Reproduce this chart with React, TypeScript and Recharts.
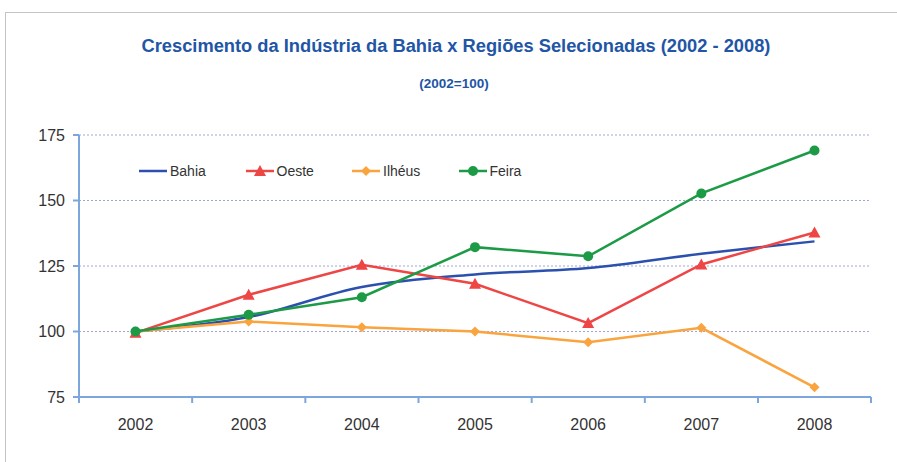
import { LineChart, Line, XAxis, YAxis, CartesianGrid } from 'recharts';

const years = ['2002', '2003', '2004', '2005', '2006', '2007', '2008'];
const bahia = [100, 105.5, 117, 121.8, 124.2, 129.7, 134.4];
const oeste = [99.5, 114, 125.5, 118.2, 103.2, 125.6, 137.8];
const ilheus = [100, 103.8, 101.6, 100, 95.9, 101.4, 78.7];
const feira = [100, 106.4, 113.1, 132.2, 128.7, 152.7, 169.1];
const yTicks = [75, 100, 125, 150, 175];

const SERIES = [
  { key: 'bahia', label: 'Bahia', color: '#2B50AE', marker: 'none' },
  { key: 'oeste', label: 'Oeste', color: '#EE4545', marker: 'triangle' },
  { key: 'ilheus', label: 'Ilhéus', color: '#F9A43E', marker: 'diamond' },
  { key: 'feira', label: 'Feira', color: '#1C9A46', marker: 'circle' },
];

const data = years.map((year, i) => ({
  year,
  bahia: bahia[i],
  oeste: oeste[i],
  ilheus: ilheus[i],
  feira: feira[i],
}));

const AXIS_COLOR = '#7DA6DE';
const HALF_BAND = 56.5;
const font = 'Liberation Sans, Arial';

function Marker({ kind, cx, cy, color }: { kind: string; cx: number; cy: number; color: string }) {
  if (kind === 'triangle') {
    return <polygon points={`${cx},${cy - 6} ${cx + 6},${cy + 5} ${cx - 6},${cy + 5}`} fill={color} />;
  }
  if (kind === 'diamond') {
    return <polygon points={`${cx},${cy - 5} ${cx + 5},${cy} ${cx},${cy + 5} ${cx - 5},${cy}`} fill={color} />;
  }
  if (kind === 'circle') {
    return <circle cx={cx} cy={cy} r={5} fill={color} />;
  }
  return null;
}

const makeDot = (kind: string, color: string) => (props: any) => {
  const { cx, cy, index } = props;
  if (cx == null || cy == null) return <g key={index} />;
  return <Marker key={index} kind={kind} cx={cx} cy={cy} color={color} />;
};

const XTick = (props: any) => {
  const { x, y, payload, index } = props;
  return (
    <g>
      <line x1={x - HALF_BAND} x2={x - HALF_BAND} y1={y} y2={y + 6} stroke={AXIS_COLOR} strokeWidth={2} />
      {index === years.length - 1 && (
        <line x1={x + HALF_BAND} x2={x + HALF_BAND} y1={y} y2={y + 6} stroke={AXIS_COLOR} strokeWidth={2} />
      )}
      <text x={x} y={y + 33} textAnchor="middle" fontSize={16} fill="#333" fontFamily={font}>
        {payload.value}
      </text>
    </g>
  );
};

export default function App() {
  return (
    <div style={{ position: 'absolute', left: 0, top: 0, width: 897, height: 462, background: '#fff', overflow: 'hidden' }}>
      <div
        style={{
          position: 'absolute',
          left: 5,
          top: 12,
          width: 900,
          height: 470,
          border: '1px solid #c4c4c4',
          boxSizing: 'border-box',
        }}
      />
      <div
        style={{
          position: 'absolute',
          top: 35,
          left: 0,
          width: 912,
          textAlign: 'center',
          fontFamily: font,
          fontWeight: 'bold',
          fontSize: 18.3,
          color: '#2255A5',
        }}
      >
        Crescimento da Indústria da Bahia x Regiões Selecionadas (2002 - 2008)
      </div>
      <div
        style={{
          position: 'absolute',
          top: 76,
          left: 0,
          width: 908,
          textAlign: 'center',
          fontFamily: font,
          fontWeight: 'bold',
          fontSize: 13.5,
          color: '#2255A5',
        }}
      >
        (2002=100)
      </div>
      <div style={{ position: 'absolute', left: 0, top: 0 }}>
        <LineChart width={897} height={462} data={data} margin={{ top: 135, right: 26, bottom: 35, left: 29 }}>
          <CartesianGrid vertical={false} stroke="#A0A6D8" strokeDasharray="2 2" />
          <XAxis
            dataKey="year"
            height={30}
            padding={{ left: HALF_BAND, right: HALF_BAND }}
            axisLine={{ stroke: AXIS_COLOR, strokeWidth: 2 }}
            tickLine={false}
            tickSize={0}
            tickMargin={0}
            tick={<XTick />}
            interval={0}
          />
          <YAxis
            width={50}
            domain={[75, 175]}
            ticks={yTicks}
            axisLine={{ stroke: AXIS_COLOR, strokeWidth: 2 }}
            tickLine={{ stroke: AXIS_COLOR, strokeWidth: 2 }}
            tickSize={6}
            tickMargin={8}
            tick={{ fontSize: 16, fill: '#333', fontFamily: font }}
          />
          {SERIES.map((s) => (
            <Line
              key={s.key}
              dataKey={s.key}
              name={s.label}
              type={s.key === 'bahia' ? 'monotone' : 'linear'}
              stroke={s.color}
              strokeWidth={2.5}
              dot={makeDot(s.marker, s.color)}
              activeDot={false}
              isAnimationActive={false}
            />
          ))}
        </LineChart>
      </div>
      <div
        style={{
          position: 'absolute',
          top: 163,
          left: 139,
          display: 'flex',
          fontFamily: font,
          fontSize: 14,
          color: '#333',
        }}
      >
        {SERIES.map((s) => (
          <div key={s.key} style={{ width: 106.5, display: 'flex', alignItems: 'center' }}>
            <svg width={30} height={16}>
              <line x1={0} x2={28} y1={8} y2={8} stroke={s.color} strokeWidth={2.5} />
              <Marker kind={s.marker} cx={14} cy={8} color={s.color} />
            </svg>
            <span style={{ marginLeft: 1 }}>{s.label}</span>
          </div>
        ))}
      </div>
    </div>
  );
}
